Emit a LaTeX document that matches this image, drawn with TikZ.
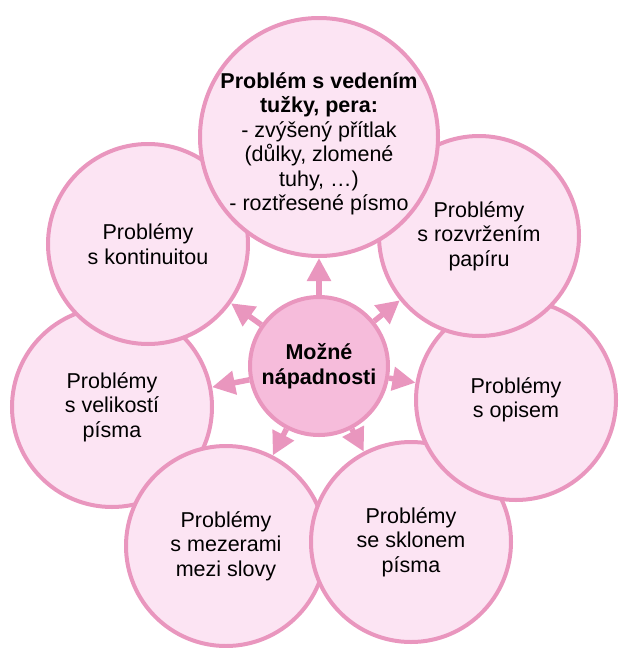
\documentclass[tikz,border=0pt]{standalone}
\usepackage{fontspec}
\setmainfont{Liberation Sans}
\usetikzlibrary{arrows.meta}

\definecolor{rimpink}{RGB}{233,150,190}
\definecolor{bubblepink}{RGB}{252,228,243}
\definecolor{hubpink}{RGB}{246,188,219}

\begin{document}
\begin{tikzpicture}[x=1pt,y=-1pt,
  bubble/.style={circle,draw=rimpink,line width=4pt,fill=bubblepink,
    minimum size=200pt,inner sep=0pt,align=center,
    font=\fontsize{21.5}{24.5}\selectfont},
  hub/.style={bubble,fill=hubpink,minimum size=138pt,
    font=\fontsize{21.5}{24.5}\selectfont\bfseries},
  spoke/.style={draw=rimpink,line width=5.5pt,
    -{Triangle[length=23pt,width=23pt]}}]
  \useasboundingbox (0,0) rectangle (621,648);

  % outer circles, back to front
  \node[bubble] (velikost) at (112,407) {Problémy\\s velikostí\\písma};
  \node[bubble] (mezery) at (226,546) {Problémy\\s mezerami\\mezi slovy};
  \node[bubble] (sklon) at (411,542) {Problémy\\se sklonem\\písma};
  \node[bubble] (opis) at (516,400) {Problémy\\s opisem};
  \node[bubble] (rozvrzeni) at (479,236) {Problémy\\s rozvržením\\papíru};
  \node[bubble] (kontinuita) at (148,244) {Problémy\\s kontinuitou};
  \node[bubble,minimum size=238pt] (tuzka) at (319,137) {};
  \node[align=center,font=\fontsize{21.5}{24.5}\selectfont] (tuzkatext) at (319,144)
    {\textbf{Problém s vedením}\\\textbf{tužky, pera:}\\- zvýšený přítlak\\(důlky, zlomené\\tuhy, …)\\- roztřesené písmo};

  % middle circle and its arrows
  \node[hub] (napadnosti) at (319,366) {Možné\\nápadnosti};
  \foreach \target in {tuzka,rozvrzeni,opis,sklon,mezery,velikost,kontinuita}
    \draw[spoke] (napadnosti) -- (\target);
\end{tikzpicture}
\end{document}
